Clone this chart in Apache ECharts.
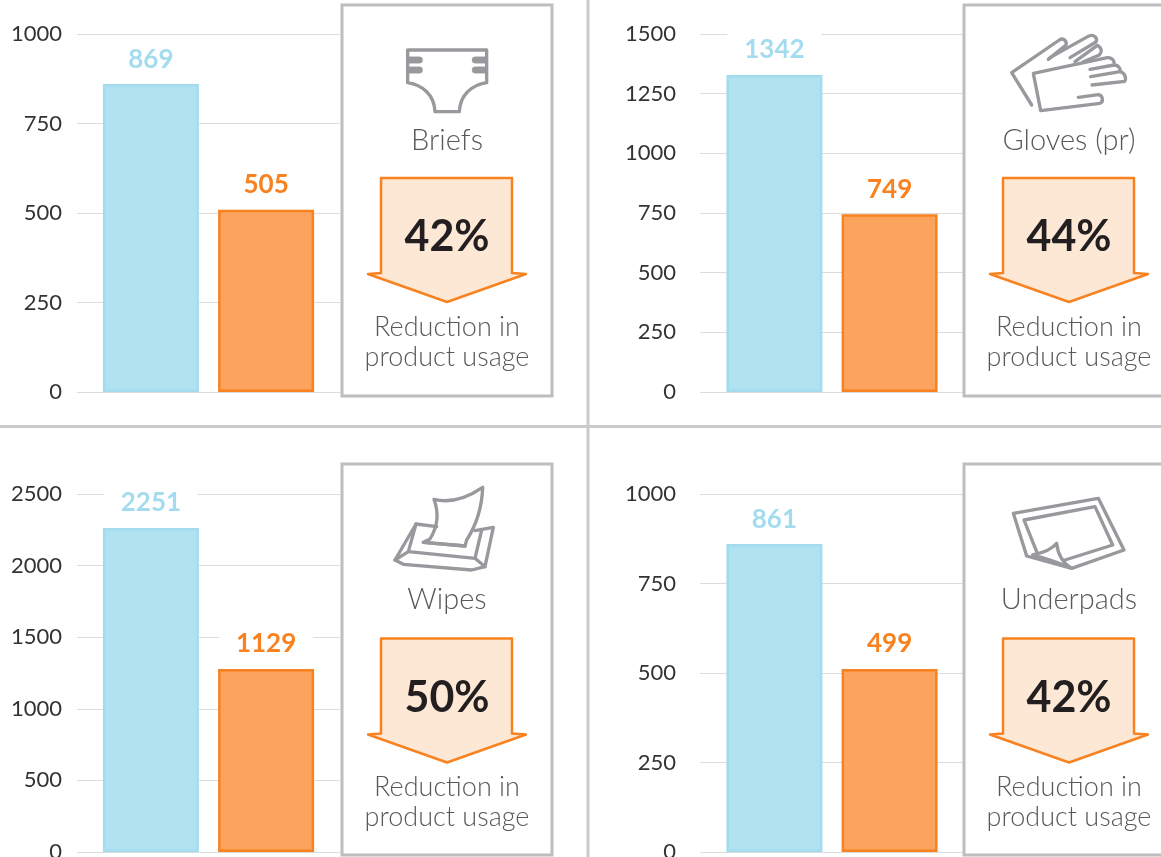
<!DOCTYPE html>
<html style="height: 100%">
  <head>
    <meta charset="utf-8" />
    <title>Reduction in product usage</title>
    <script src="https://cdn.jsdelivr.net/npm/echarts@6/dist/echarts.min.js"></script>
  </head>
  <body style="height: 100%; margin: 0; background: #fff">
    <div id="container" style="width: 1161px; height: 857px"></div>

    <script type="text/javascript">
      var products = ['Briefs', 'Gloves (pr)', 'Wipes', 'Underpads'];
      var reductions = ['42%', '44%', '50%', '42%'];
      var axisMax = [1000, 1500, 2500, 1000];
      var axisStep = [250, 250, 500, 250];
      // bar heights as drawn in the picture
      var beforeValues = [860, 1328, 2262, 860];
      var afterValues = [509, 745, 1278, 511];
      // numbers printed above the bars
      var beforeLabels = ['869', '1342', '2251', '861'];
      var afterLabels = ['505', '749', '1129', '499'];

      var FONT = 'Lato';
      var GREY = '#97999c';
      var TEXT = '#58595b';

      // icons, drawn at 3x and scaled down
      var icons = [
        [
          'M203,150 L440,150 L440,248 C395,255 360,285 358,335 L285,335 C283,285 248,255 203,248 Z',
          'M205,170 L238,170 A10,10 0 0 1 238,190 L205,190 Z M205,200 L238,200 A10,10 0 0 1 238,220 L205,220 Z',
          'M437,170 L406,170 A10,10 0 0 0 406,190 L437,190 Z M437,200 L406,200 A10,10 0 0 0 406,220 L437,220 Z'
        ],
        [
          'M265,118 L318,75 C322,62 308,52 298,60 L155,158 L215,255',
          'M330,113 L408,66 C415,52 398,40 383,50 L270,113',
          'M345,125 L412,76 C428,85 425,98 418,105 L370,125',
          'M220,160 L442,113 C458,112 465,125 462,135 L390,148 M462,135 C478,135 482,150 480,155 L392,170 M480,155 C495,158 500,175 494,184 L396,195 M355,232 L415,224 C428,225 432,245 420,250 L242,272 L220,160'
        ],
        [
          'M282,88 Q350,105 428,52 Q425,140 380,210 L375,228 L250,217 L270,207 Q305,150 282,88 Z',
          'M290,170 L228,162 L165,270 L190,283 L395,300 L435,290 L460,172 L405,182',
          'M165,270 L205,245 L405,265 L435,290 M228,162 L205,245 M405,265 L425,180 M250,217 L375,228'
        ],
        [
          'M160,130 L415,85 L492,240 L335,295 L200,258 Z',
          'M232,250 L192,150 L405,110 L458,225 L315,270',
          'M218,255 Q270,245 290,220 Q295,270 335,295 M218,255 Q280,270 335,295'
        ]
      ];
      // the 3x crop origin of each icon
      var iconOrigin = [[340, 0], [960, 20], [340, 470], [960, 470]];
      var iconFilled = [[false, true, true], [false, false, false, false], [false, false, false], [false, false, false]];

      var gridBox = [
        { left: 77, top: 34, width: 263, height: 358, outerBoundsMode: 'none' },
        { left: 700, top: 34, width: 264, height: 358, outerBoundsMode: 'none' },
        { left: 77, top: 494, width: 263, height: 358, outerBoundsMode: 'none' },
        { left: 700, top: 494, width: 264, height: 358, outerBoundsMode: 'none' }
      ];
      var panelX = [342, 964, 342, 964];
      var panelY = [5, 5, 464, 464];
      var rowShift = [0, 0, 1.5, 1.5];
      var labelMargin = [15, 24, 15, 24];

      var grids = [], xAxes = [], yAxes = [], series = [], graphics = [];

      function text(str, x, y, size, color, weight) {
        return {
          type: 'text', z: 30, x: x, y: y,
          style: { text: str, fill: color, font: weight + ' ' + size + 'px ' + FONT, textAlign: 'center', textVerticalAlign: 'middle' }
        };
      }

      function barSeries(i, value, label, fill, border, textColor) {
        return {
          type: 'bar',
          xAxisIndex: i,
          yAxisIndex: i,
          data: [value],
          barWidth: 96,
          barGap: '20%',
          itemStyle: { color: fill, borderColor: border, borderWidth: 2.5 },
          label: {
            show: true,
            position: 'top',
            distance: 8,
            formatter: label,
            color: textColor,
            fontFamily: FONT,
            fontWeight: 700,
            fontSize: 26,
            width: 94,
            height: 34,
            lineHeight: 34,
            align: 'center',
            backgroundColor: '#fff'
          }
        };
      }

      for (var i = 0; i < products.length; i++) {
        grids.push(gridBox[i]);
        xAxes.push({
          type: 'category',
          gridIndex: i,
          data: [products[i]],
          axisLine: { show: false },
          axisTick: { show: false },
          axisLabel: { show: false }
        });
        yAxes.push({
          type: 'value',
          gridIndex: i,
          min: 0,
          max: axisMax[i],
          interval: axisStep[i],
          axisLine: { show: false },
          axisTick: { show: false },
          axisLabel: {
            color: '#333', fontFamily: FONT, fontSize: 22, fontWeight: 400, margin: labelMargin[i],
            formatter: function (v) { return String(v); }
          },
          splitLine: { lineStyle: { color: '#dcdcdc', width: 1 } }
        });
        series.push(barSeries(i, beforeValues[i], beforeLabels[i], '#b1e2f0', '#a3dcee', '#a3dcee'));
        series.push(barSeries(i, afterValues[i], afterLabels[i], '#fca35d', '#f7821f', '#f7821f'));

        var px = panelX[i], py = panelY[i], dy = rowShift[i];
        var cx = px + 105;

        graphics.push({
          type: 'rect', z: 20,
          shape: { x: px, y: py, width: 210, height: 391 },
          style: { fill: '#fff', stroke: '#bcbec0', lineWidth: 3 }
        });
        graphics.push(text(products[i], cx, py + 136, 29, TEXT, 300));
        graphics.push({
          type: 'polygon', z: 25,
          shape: {
            points: [
              [px + 39, py + 173 + dy], [px + 170, py + 173 + dy], [px + 170, py + 268 + dy], [px + 184, py + 269 + dy],
              [px + 105, py + 297 + dy], [px + 26, py + 269 + dy], [px + 39, py + 268 + dy]
            ]
          },
          style: { fill: '#fde8d6', stroke: '#f7821f', lineWidth: 2.5, lineJoin: 'round' }
        });
        graphics.push(text(reductions[i], cx, py + 232 + dy * 1.5, 43, '#231f20', 700));
        graphics.push(text('Reduction in', cx, py + 322 + dy, 27, TEXT, 300));
        graphics.push(text('product usage', cx, py + 352 + dy, 27, TEXT, 300));

        for (var k = 0; k < icons[i].length; k++) {
          // graphic has no plain path type, so each icon stroke gets its own shape class
          var shapeName = 'icon_' + i + '_' + k;
          echarts.graphic.registerShape(shapeName, echarts.graphic.extendPath(icons[i][k]));
          graphics.push({
            type: shapeName, z: 28,
            x: iconOrigin[i][0], y: iconOrigin[i][1], scaleX: 1 / 3, scaleY: 1 / 3,
            style: {
              fill: iconFilled[i][k] ? GREY : 'none',
              stroke: GREY,
              lineWidth: iconFilled[i][k] ? 1 : 10,
              lineJoin: 'round',
              lineCap: 'round'
            }
          });
        }
      }

      // dividers between the four panels
      graphics.push({ type: 'line', z: 40, shape: { x1: 0, y1: 426.5, x2: 1161, y2: 426.5 }, style: { stroke: '#c9cacb', lineWidth: 3 } });
      graphics.push({ type: 'line', z: 40, shape: { x1: 588, y1: 0, x2: 588, y2: 857 }, style: { stroke: '#c9cacb', lineWidth: 3 } });

      var myChart = echarts.init(document.getElementById('container'));
      myChart.setOption({
        animation: false,
        backgroundColor: '#fff',
        grid: grids,
        xAxis: xAxes,
        yAxis: yAxes,
        series: series,
        graphic: graphics
      });
    </script>
  </body>
</html>
